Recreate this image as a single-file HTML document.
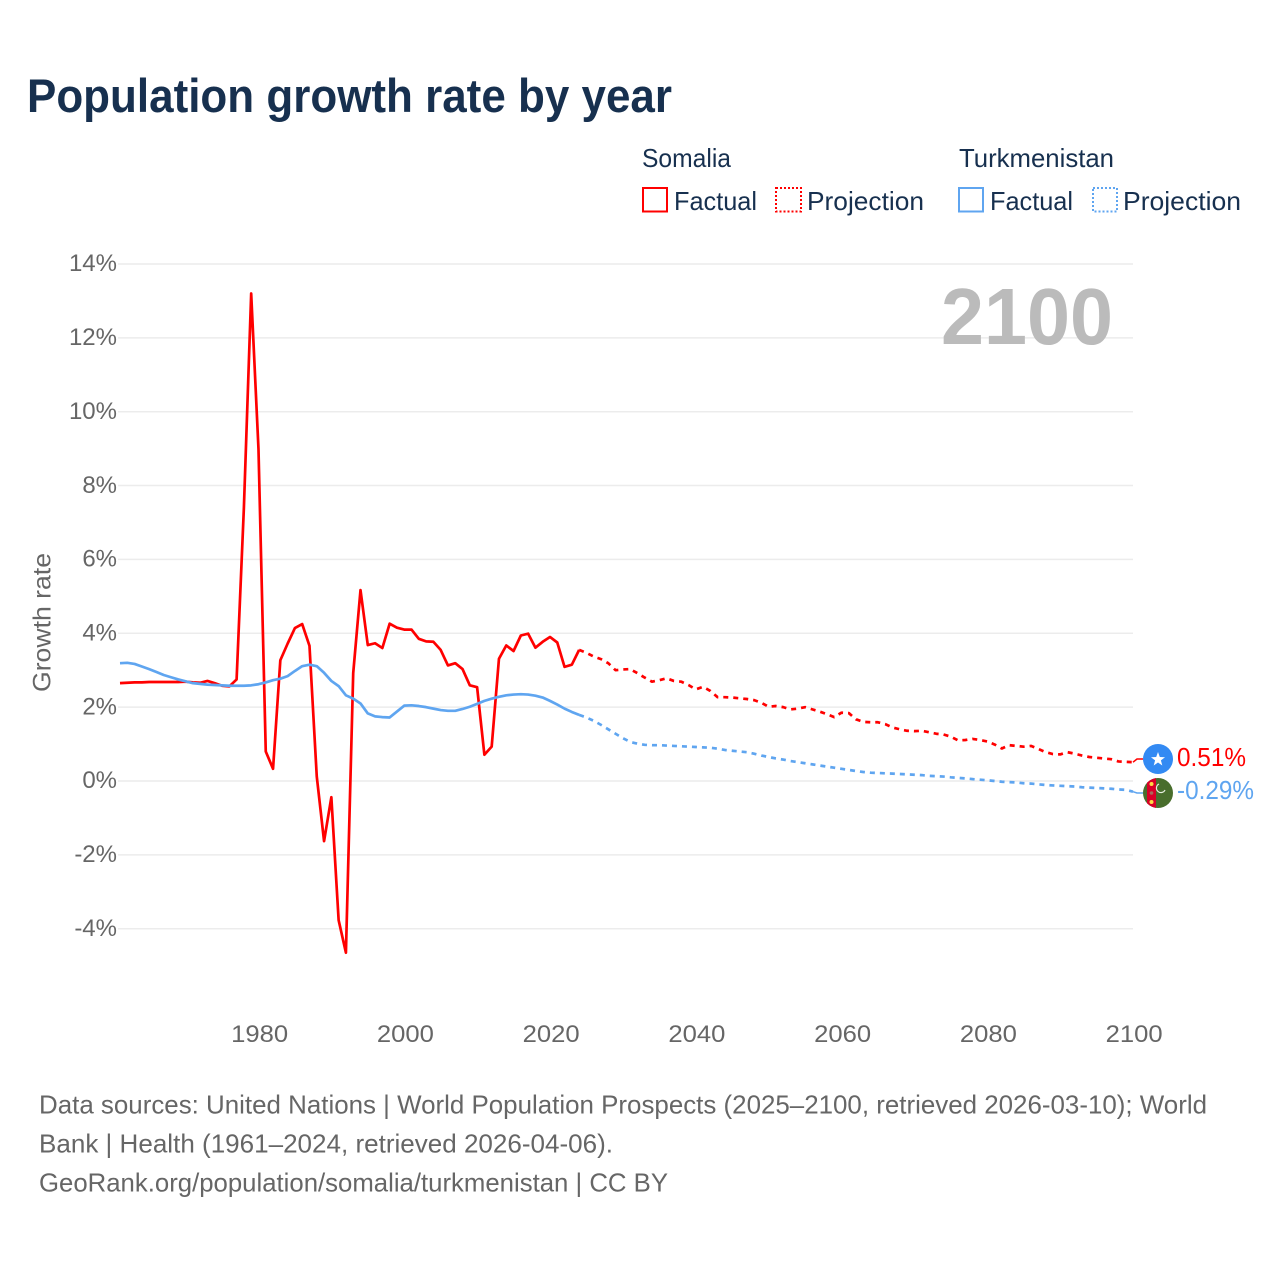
<!DOCTYPE html>
<html lang="en">
<head>
<meta charset="utf-8">
<title>Population growth rate by year</title>
<style>
html,body{margin:0;padding:0;background:#fff;width:1280px;height:1280px;overflow:hidden}
svg{display:block}
text{font-family:"Liberation Sans",sans-serif}
.legend{font-size:26px;fill:#17304f}
.foot{font-size:26px;fill:#666}
.tick{font-size:24px;fill:#666}
</style>
</head>
<body>
<svg id="chart" width="1280" height="1280" viewBox="0 0 1280 1280" xmlns="http://www.w3.org/2000/svg">
  <defs>
    <clipPath id="flag-clip"><circle cx="1158" cy="793" r="15"/></clipPath>
  </defs>
  <rect width="1280" height="1280" fill="#fff"/>
  <text x="27" y="112" font-size="47" font-weight="700" fill="#17304f" textLength="645" lengthAdjust="spacingAndGlyphs">Population growth rate by year</text>

  <g>
    <text class="legend" x="642" y="167" textLength="89" lengthAdjust="spacingAndGlyphs">Somalia</text>
    <text class="legend" x="959" y="167" textLength="155" lengthAdjust="spacingAndGlyphs">Turkmenistan</text>
    <g>
      <rect x="643" y="188" width="24" height="23.5" fill="none" stroke="#ff0000" stroke-width="2"/>
      <text class="legend" x="674" y="210" textLength="83" lengthAdjust="spacingAndGlyphs">Factual</text>
    </g>
    <g>
      <rect x="776" y="188" width="25" height="23.5" fill="none" stroke="#ff0000" stroke-width="2" stroke-dasharray="2 2"/>
      <text class="legend" x="807" y="210" textLength="117" lengthAdjust="spacingAndGlyphs">Projection</text>
    </g>
    <g>
      <rect x="959" y="188" width="24" height="23.5" fill="none" stroke="#5fa5f0" stroke-width="2"/>
      <text class="legend" x="990" y="210" textLength="83" lengthAdjust="spacingAndGlyphs">Factual</text>
    </g>
    <g>
      <rect x="1093" y="188" width="24" height="23.5" fill="none" stroke="#5fa5f0" stroke-width="2" stroke-dasharray="2 2"/>
      <text class="legend" x="1123" y="210" textLength="118" lengthAdjust="spacingAndGlyphs">Projection</text>
    </g>
  </g>

  <g id="grid"></g>
  <g id="yticks"></g>
  <g id="xticks"></g>

  <text transform="translate(50.5,622.5) rotate(-90)" text-anchor="middle" font-size="25" fill="#666" textLength="139" lengthAdjust="spacingAndGlyphs">Growth rate</text>
  <text x="1113" y="344" text-anchor="end" font-size="80" font-weight="700" fill="#bbbbbb" textLength="172" lengthAdjust="spacingAndGlyphs">2100</text>

  <g id="series"></g>

  <g>
    <circle cx="1158" cy="759" r="15" fill="#338af3"/>
    <polygon points="1158,752 1159.8,757 1165,757.2 1160.9,760.4 1162.3,765.5 1158,762.5 1153.7,765.5 1155.1,760.4 1151,757.2 1156.2,757" fill="#fff"/>
  </g>
  <g clip-path="url(#flag-clip)">
    <rect x="1143" y="778" width="30" height="30" fill="#496e2d"/>
    <rect x="1147" y="778" width="9" height="30" fill="#d80027"/>
    <circle cx="1151.5" cy="784" r="2" fill="#ffda44"/>
    <circle cx="1151.5" cy="793" r="1.8" fill="#a86a5a"/>
    <circle cx="1151.5" cy="802" r="2" fill="#ffda44"/>
    <path d="M1159 784 A4.5 4.5 0 1 0 1165 790" fill="none" stroke="#e8efe0" stroke-width="1.2"/>
  </g>
  <text x="1177" y="766" font-size="26" fill="#ff0000" textLength="69" lengthAdjust="spacingAndGlyphs">0.51%</text>
  <text x="1177" y="799" font-size="26" fill="#5fa5f0" textLength="77" lengthAdjust="spacingAndGlyphs">-0.29%</text>

  <g>
    <text class="foot" x="39" y="1113.5" textLength="1168" lengthAdjust="spacingAndGlyphs">Data sources: United Nations | World Population Prospects (2025–2100, retrieved 2026-03-10); World</text>
    <text class="foot" x="39" y="1152.5" textLength="574" lengthAdjust="spacingAndGlyphs">Bank | Health (1961–2024, retrieved 2026-04-06).</text>
    <text class="foot" x="39" y="1191.5" textLength="629" lengthAdjust="spacingAndGlyphs">GeoRank.org/population/somalia/turkmenistan | CC BY</text>
  </g>
</svg>
<script>
const yTickValues = [14, 12, 10, 8, 6, 4, 2, 0, -2, -4];
const xTickYears = [1980, 2000, 2020, 2040, 2060, 2080, 2100];
const firstYear = 1961;
const lastFactualYear = 2024;
const somaliaFactual = [2.65,2.66,2.67,2.67,2.68,2.68,2.68,2.68,2.68,2.69,2.67,2.66,2.71,2.65,2.58,2.56,2.75,7.4,13.2,9.0,0.8,0.33,3.27,3.72,4.14,4.25,3.66,0.12,-1.63,-0.44,-3.77,-4.65,2.92,5.17,3.68,3.73,3.6,4.26,4.15,4.1,4.1,3.85,3.78,3.77,3.55,3.13,3.19,3.03,2.59,2.54,0.71,0.93,3.31,3.67,3.52,3.94,3.99,3.61,3.77,3.9,3.75,3.09,3.15,3.55];
const somaliaProjection = [3.47,3.37,3.3,3.19,3.0,3.02,3.03,2.92,2.8,2.69,2.73,2.78,2.71,2.69,2.6,2.48,2.55,2.44,2.27,2.27,2.26,2.24,2.22,2.19,2.12,2.01,2.03,2.0,1.94,1.96,2.0,1.94,1.88,1.81,1.73,1.85,1.84,1.67,1.6,1.59,1.59,1.54,1.45,1.4,1.36,1.35,1.36,1.32,1.28,1.26,1.2,1.1,1.11,1.14,1.11,1.07,0.99,0.88,0.97,0.95,0.93,0.95,0.87,0.78,0.73,0.72,0.78,0.74,0.69,0.65,0.63,0.61,0.59,0.53,0.52,0.51];
const turkmenistanFactual = [3.19,3.2,3.17,3.1,3.03,2.95,2.87,2.81,2.75,2.7,2.65,2.63,2.61,2.6,2.59,2.58,2.58,2.58,2.59,2.62,2.67,2.73,2.77,2.84,2.98,3.11,3.15,3.11,2.93,2.71,2.57,2.32,2.23,2.1,1.83,1.75,1.73,1.72,1.88,2.04,2.05,2.03,2.0,1.96,1.92,1.9,1.9,1.95,2.01,2.09,2.17,2.23,2.28,2.32,2.34,2.35,2.34,2.31,2.26,2.17,2.07,1.96,1.87,1.79];
const turkmenistanProjection = [1.72,1.63,1.52,1.4,1.28,1.16,1.06,1.01,0.98,0.97,0.97,0.96,0.95,0.94,0.93,0.92,0.91,0.9,0.875,0.84,0.82,0.8,0.78,0.74,0.69,0.65,0.61,0.58,0.54,0.51,0.48,0.45,0.42,0.39,0.36,0.33,0.3,0.27,0.244,0.225,0.217,0.208,0.2,0.19,0.18,0.17,0.16,0.14,0.13,0.12,0.1,0.085,0.07,0.05,0.035,0.02,0,-0.02,-0.03,-0.04,-0.06,-0.07,-0.09,-0.108,-0.12,-0.13,-0.14,-0.15,-0.17,-0.18,-0.19,-0.2,-0.21,-0.23,-0.24,-0.29];

const NS = 'http://www.w3.org/2000/svg';
const plotLeft = 120, plotRight = 1133, yearSpan = 139;
const zeroY = 781, pxPerPercent = 36.93;
function xScale(year) { return plotLeft + (year - firstYear) * (plotRight - plotLeft) / yearSpan; }
function yScale(value) { return zeroY - value * pxPerPercent; }

const gridGroup = document.getElementById('grid');
const yTickGroup = document.getElementById('yticks');
yTickValues.forEach(function (v) {
  const line = document.createElementNS(NS, 'line');
  
  
  line.setAttribute('x1', plotLeft - 2);
  line.setAttribute('x2', plotRight);
  line.setAttribute('y1', yScale(v));
  line.setAttribute('y2', yScale(v));
  line.setAttribute('stroke', '#ececec');
  line.setAttribute('stroke-width', '1.5');
  gridGroup.appendChild(line);
  const label = document.createElementNS(NS, 'text');
  
  
  label.setAttribute('class', 'tick');
  label.setAttribute('x', 117);
  label.setAttribute('y', yScale(v) + 7.2);
  label.setAttribute('text-anchor', 'end');
  label.textContent = v + '%';
  yTickGroup.appendChild(label);
});

const xTickGroup = document.getElementById('xticks');
xTickYears.forEach(function (yr) {
  const label = document.createElementNS(NS, 'text');
  
  
  label.setAttribute('class', 'tick');
  label.setAttribute('x', xScale(yr) + 1.2);
  label.setAttribute('y', 1042);
  label.setAttribute('text-anchor', 'middle');
  label.setAttribute('textLength', '57');
  label.setAttribute('lengthAdjust', 'spacingAndGlyphs');
  label.textContent = yr;
  xTickGroup.appendChild(label);
});

function pathFrom(values, startYear, prefix) {
  return prefix + values.map(function (v, i) {
    return (i === 0 && !prefix ? 'M' : 'L') + xScale(startYear + i).toFixed(2) + ' ' + yScale(v).toFixed(2);
  }).join(' ');
}
const seriesGroup = document.getElementById('series');
function addLine(d, color, dashed, width) {
  const p = document.createElementNS(NS, 'path');
  
  
  p.setAttribute('d', d);
  p.setAttribute('fill', 'none');
  p.setAttribute('stroke', color);
  p.setAttribute('stroke-width', width);
  p.setAttribute('stroke-linejoin', 'round');
  if (dashed) p.setAttribute('stroke-dasharray', '5 5');
  seriesGroup.appendChild(p);
}
function moveTo(year, value) {
  return 'M' + xScale(year).toFixed(2) + ' ' + yScale(value).toFixed(2) + ' ';
}
const projStart = lastFactualYear + 1;
addLine(pathFrom(somaliaFactual, firstYear, ''), '#ff0000', false, 2.7);
addLine(pathFrom(somaliaProjection, projStart, moveTo(lastFactualYear, somaliaFactual[somaliaFactual.length - 1])), '#ff0000', true, 2.7);
addLine(pathFrom(turkmenistanFactual, firstYear, ''), '#5fa5f0', false, 2.7);
addLine(pathFrom(turkmenistanProjection, projStart, moveTo(lastFactualYear, turkmenistanFactual[turkmenistanFactual.length - 1])), '#5fa5f0', true, 2.7);
addLine(moveTo(2100, somaliaProjection[somaliaProjection.length - 1]) + 'L1137 759 L1143 759', '#ff0000', false, 1.5);
addLine(moveTo(2100, turkmenistanProjection[turkmenistanProjection.length - 1]) + 'L1137 793 L1143 793', '#5fa5f0', false, 1.5);
</script>
</body>
</html>
